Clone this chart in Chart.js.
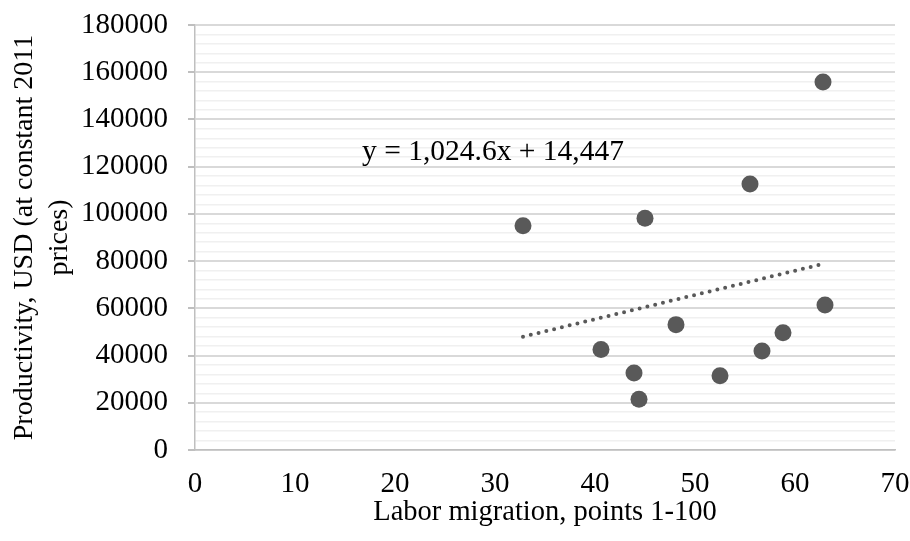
<!DOCTYPE html>
<html>
<head>
<meta charset="utf-8">
<script src="https://cdn.jsdelivr.net/npm/chart.js@4"></script>
<style>
  html, body { margin: 0; padding: 0; background: #ffffff; }
  #wrap { width: 910px; height: 541px; position: relative; }
</style>
</head>
<body>
<div id="wrap"><canvas id="grafico" width="910" height="541"></canvas></div>
<script>
// datos
const migracion = [32.8, 40.6, 43.9, 44.4, 45.0, 48.1, 52.5, 55.5, 56.7, 58.8, 62.8, 63.0]
const productividad = [95000, 42600, 32600, 21500, 98200, 53100, 31400, 112700, 41900, 49700, 155900, 61400]
const tendenciaX = [32.8, 63.0]
const tendenciaY = [48000, 79000]
const ecuacion = 'y = 1,024.6x + 14,447'
const tituloX = 'Labor migration, points 1-100'
const tituloY = ['Productivity, USD (at constant 2011', 'prices)']

const fuente = "'Liberation Serif', 'Times New Roman', serif"
const gris = '#595959'

const puntos = migracion.map((x, i) => ({ x, y: productividad[i] }))
const tendencia = tendenciaX.map((x, i) => ({ x, y: tendenciaY[i] }))

// plugin para escribir la ecuacion de la linea
const textoEcuacion = {
    id: 'textoEcuacion',
    afterDatasetsDraw(chart) {
        const ctx = chart.ctx
        ctx.save()
        ctx.font = `29.5px ${fuente}`
        ctx.fillStyle = '#000'
        ctx.textBaseline = 'middle'
        ctx.fillText(ecuacion, 362, 152)
        ctx.restore()
    }
}

const esMayor = (v) => v % 20000 === 0

new Chart(document.getElementById('grafico'), {
    type: 'scatter',
    data: {
        datasets: [
            {
                data: puntos,
                backgroundColor: gris,
                borderColor: gris,
                pointRadius: 8.5,
                pointHoverRadius: 8.5,
                borderWidth: 0
            },
            {
                type: 'line',
                data: tendencia,
                borderColor: gris,
                borderWidth: 4,
                borderCapStyle: 'round',
                borderDash: [0, 8],
                pointRadius: 0,
                fill: false
            }
        ]
    },
    options: {
        responsive: false,
        animation: false,
        devicePixelRatio: 1,
        layout: { padding: { top: 25, right: 15, left: 8, bottom: 0 } },
        plugins: {
            legend: { display: false },
            tooltip: { enabled: false }
        },
        scales: {
            x: {
                type: 'linear',
                min: 0,
                max: 70,
                ticks: { stepSize: 10, color: '#000', font: { family: fuente, size: 29 }, padding: 10 },
                grid: { display: false, drawOnChartArea: false, tickLength: 7, tickColor: '#bfbfbf' },
                border: { color: '#bfbfbf', width: 1.5 },
                title: { display: true, text: tituloX, color: '#000', font: { family: fuente, size: 28.5 }, padding: { top: 0, bottom: 11 } },
                afterFit: (scale) => {
                    scale.height = 91
                    scale.paddingLeft = 0
                    scale.paddingRight = 0
                }
            },
            y: {
                type: 'linear',
                min: 0,
                max: 180000,
                ticks: {
                    stepSize: 4000,
                    autoSkip: false,
                    color: '#000',
                    font: { family: fuente, size: 29 },
                    padding: 20,
                    callback: (v) => esMayor(v) ? String(v) : ''
                },
                grid: {
                    color: (c) => esMayor(c.tick.value) ? '#d9d9d9' : '#f0f0f0',
                    lineWidth: (c) => esMayor(c.tick.value) ? 2 : 1.5,
                    tickColor: (c) => esMayor(c.tick.value) ? '#bfbfbf' : 'rgba(0,0,0,0)',
                    tickLength: 7
                },
                border: { color: '#bfbfbf', width: 1.5 },
                title: { display: true, text: tituloY, color: '#000', font: { family: fuente, size: 28, lineHeight: 1.22 }, padding: 0 },
                afterFit: (scale) => {
                    scale.width = 187
                    scale.paddingTop = 0
                    scale.paddingBottom = 0
                }
            }
        }
    },
    plugins: [textoEcuacion]
})
</script>
</body>
</html>
